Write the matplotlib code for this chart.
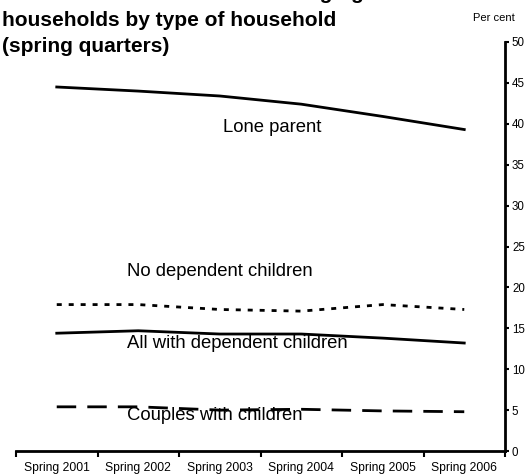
import matplotlib
matplotlib.use('Agg')
import matplotlib.pyplot as plt

plt.rcParams['font.family'] = ['Liberation Sans', 'DejaVu Sans']
plt.rcParams['lines.scale_dashes'] = False

# data
years = ['Spring 2001', 'Spring 2002', 'Spring 2003', 'Spring 2004', 'Spring 2005', 'Spring 2006']
lone_parent = [44.5, 44.0, 43.4, 42.4, 40.9, 39.3]
no_dependent = [17.9, 17.9, 17.3, 17.1, 17.9, 17.3]
all_dependent = [14.4, 14.7, 14.3, 14.3, 13.8, 13.2]
couples = [5.4, 5.4, 5.0, 5.1, 4.9, 4.8]

fig = plt.figure(figsize=(5.28, 4.74), dpi=100)
ax = fig.add_axes([16 / 528, 1 - 451 / 474, 489 / 528, 409 / 474])

x = range(len(years))
ax.plot(x, lone_parent, color='black', lw=2)
ax.plot(x, no_dependent, color='black', lw=2, dashes=(3.6, 5.0))
ax.plot(x, all_dependent, color='black', lw=2)
ax.plot(x, couples, color='black', lw=2, dashes=(14.0, 8.0))

fs = 13.3
ax.text(2.04, 39.5, 'Lone parent', fontsize=fs, va='center', ha='left')
ax.text(0.86, 21.9, 'No dependent children', fontsize=fs, va='center', ha='left')
ax.text(0.86, 13.1, 'All with dependent children', fontsize=fs, va='center', ha='left')
ax.text(0.86, 4.3, 'Couples with children', fontsize=fs, va='center', ha='left')

ax.set_xlim(-0.5, len(years) - 0.5)
ax.set_ylim(0, 50)

ax.spines['top'].set_visible(False)
ax.spines['left'].set_visible(False)
ax.spines['right'].set_linewidth(2)
ax.spines['bottom'].set_linewidth(2)

ax.yaxis.tick_right()
ax.set_yticks(range(0, 51, 5))
ax.tick_params(axis='y', direction='out', length=3, width=1.5, labelsize=8.3, pad=2)

ax.set_xticks([i - 0.5 for i in range(len(years) + 1)])
ax.set_xticklabels([])
ax.set_xticks(list(x), minor=True)
ax.set_xticklabels(years, minor=True)
ax.tick_params(axis='x', which='major', direction='out', length=4, width=1.5)
ax.tick_params(axis='x', which='minor', length=0, labelsize=8.7, pad=8)

fig.text(473 / 528, 1 - 18 / 474, 'Per cent', fontsize=8, ha='left', va='center')

# title: the first line sits mostly above the top edge, as in the reference
title_kw = dict(fontsize=15, fontweight='bold', va='center')
fig.text(375 / 528, 1 + 7 / 474, 'Workless rates for working-age', ha='right', **title_kw)
fig.text(2 / 528, 1 - 20 / 474, 'households by type of household', ha='left', **title_kw)
fig.text(2 / 528, 1 - 46 / 474, '(spring quarters)', ha='left', **title_kw)

fig.savefig('out.png', dpi=100)
